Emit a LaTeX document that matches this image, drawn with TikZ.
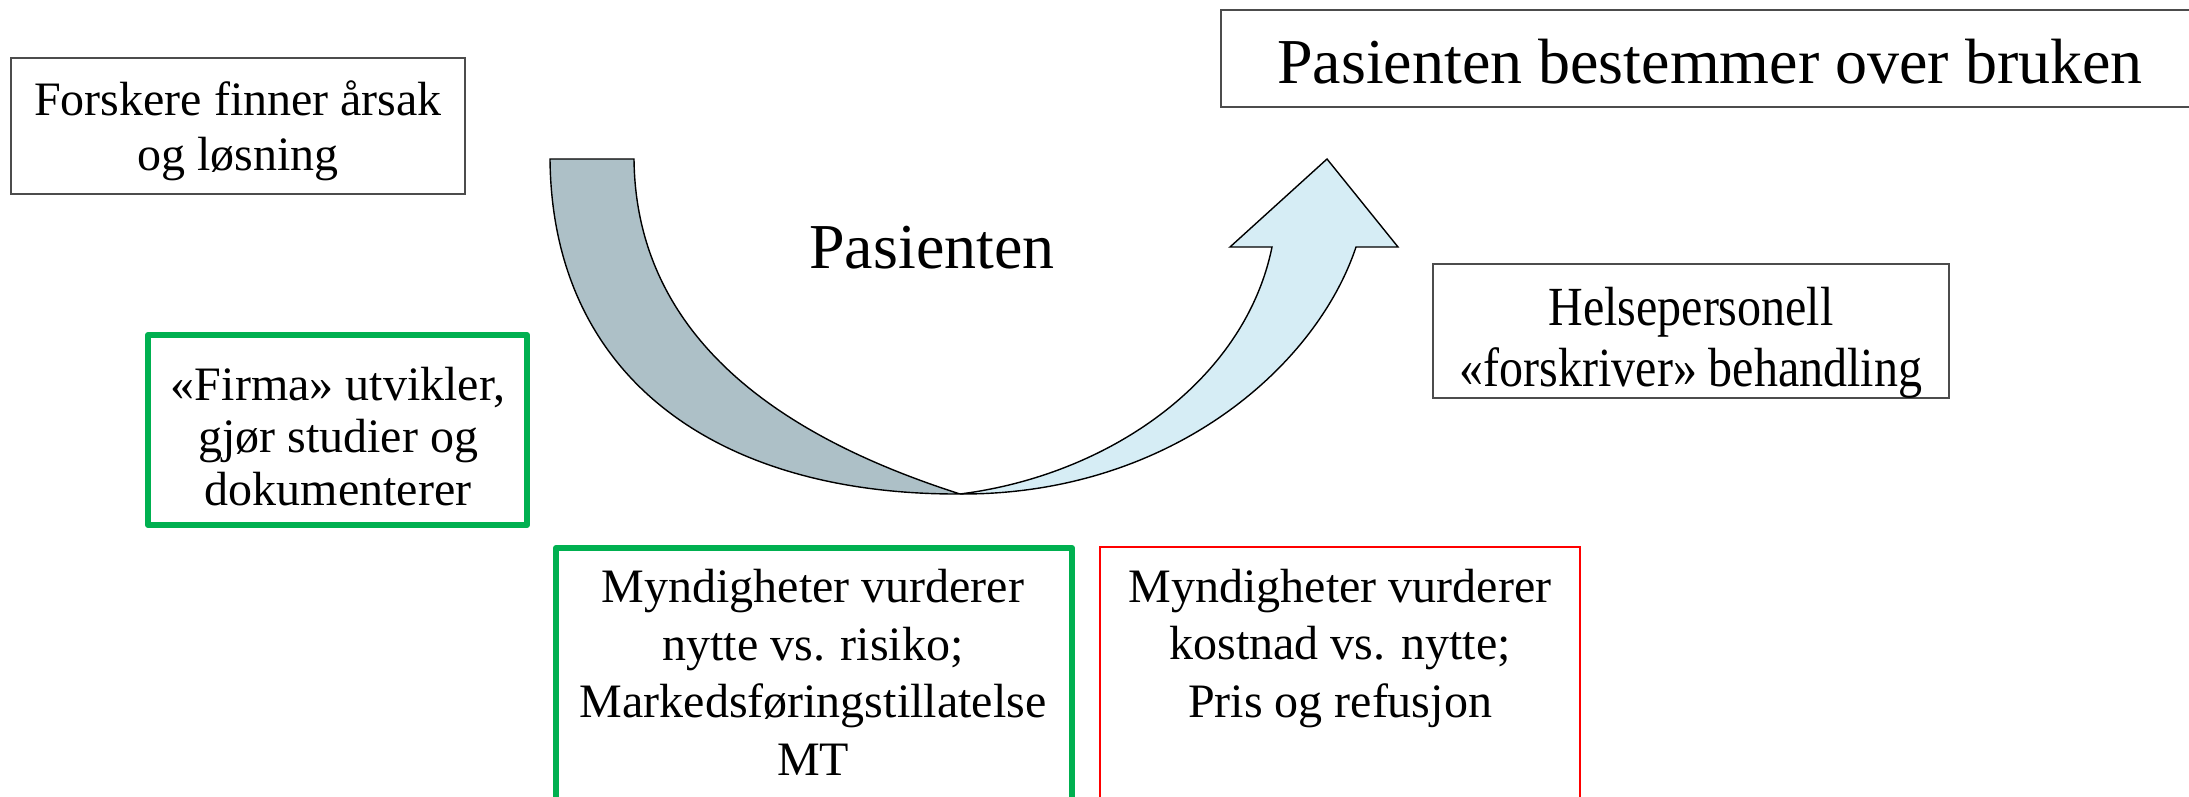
\documentclass[tikz,border=0pt]{standalone}
\usepackage{fontspec}
\setmainfont{Liberation Serif}
\definecolor{boxgreen}{HTML}{00B050}
\definecolor{ribbongrey}{RGB}{173,192,199}
\definecolor{ribbonblue}{RGB}{214,237,245}
\begin{document}
\begin{tikzpicture}[x=0.5pt,y=-0.5pt,
  greybox/.style={draw=black!70, line width=0.7pt, inner sep=0pt},
  greenbox/.style={draw=boxgreen, line width=3pt, line join=round, inner sep=0pt},
  redbox/.style={draw=red, line width=1pt, inner sep=0pt},
  lbl/.style={anchor=base, align=center, inner sep=0pt},
  ribbon/.style={draw=black, line width=0.7pt, line join=miter},
]
\useasboundingbox (0,0) rectangle (2189,797);
\clip (0,0) rectangle (2189,797);

% curved ribbon arrow: darker back half, light front half with head
\coordinate (M) at (960,494);
\coordinate (tailL) at (550,159);
\coordinate (tailR) at (634,159);
\coordinate (shaftOut) at (1356,247);
\coordinate (headR) at (1398,247);
\coordinate (tip) at (1327,159);
\coordinate (headL) at (1230,247);
\coordinate (shaftIn) at (1272,247);
\draw[ribbon, fill=ribbongrey] (tailL) -- (tailR) .. controls (636,360) and (820,449) .. (M)
  .. controls (720,495) and (552,380) .. (tailL) -- cycle;
\draw[ribbon, fill=ribbonblue] (M) .. controls (1170,495) and (1316,367) .. (shaftOut)
  -- (headR) -- (tip) -- (headL) -- (shaftIn)
  .. controls (1245,380) and (1110,475) .. (M) -- cycle;

\node[lbl, font=\fontsize{32}{38}\selectfont] (pasient) at (932,268) {Pasienten};

% boxes (text nodes are anchored at the baseline of their last line)
\node[greybox, minimum width=227pt, minimum height=68pt] (forskBox) at (238,126) {};
\node[lbl, font=\fontsize{24}{27.5}\selectfont] (forsk) at (238,170)
  {Forskere finner årsak\\og løsning};

\node[greybox, minimum width=489.5pt, minimum height=48.5pt] (brukBox) at (1710.5,58.5) {};
\node[lbl, font=\fontsize{32}{38}\selectfont] (bruk) at (1710,84)
  {Pasienten bestemmer over bruken};

\node[greybox, minimum width=258pt, minimum height=67pt] (helseBox) at (1691,331) {};
\node[lbl, font=\fontsize{24}{26.1}\selectfont, yscale=1.15, transform shape] (helse) at (1691,386)
  {Helsepersonell\\«forskriver» behandling};

\node[greenbox, minimum width=189.5pt, minimum height=95pt] (firmaBox) at (337.5,430) {};
\node[lbl, font=\fontsize{24}{26.25}\selectfont] (firma) at (338,505)
  {«Firma» utvikler,\\gjør studier og\\dokumenterer};

\node[greenbox, minimum width=258pt, minimum height=136pt] (mtBox) at (814,684) {};
\node[lbl, font=\fontsize{24}{28.7}\selectfont] (mt) at (813,775)
  {Myndigheter vurderer\\nytte vs. risiko;\\Markedsføringstillatelse\\MT};

\node[redbox, minimum width=240pt, minimum height=136.5pt] (prisBox) at (1340,683.5) {};
\node[lbl, font=\fontsize{24}{28.7}\selectfont] (pris) at (1340,717)
  {Myndigheter vurderer\\kostnad vs. nytte;\\Pris og refusjon};
\end{tikzpicture}
\end{document}
